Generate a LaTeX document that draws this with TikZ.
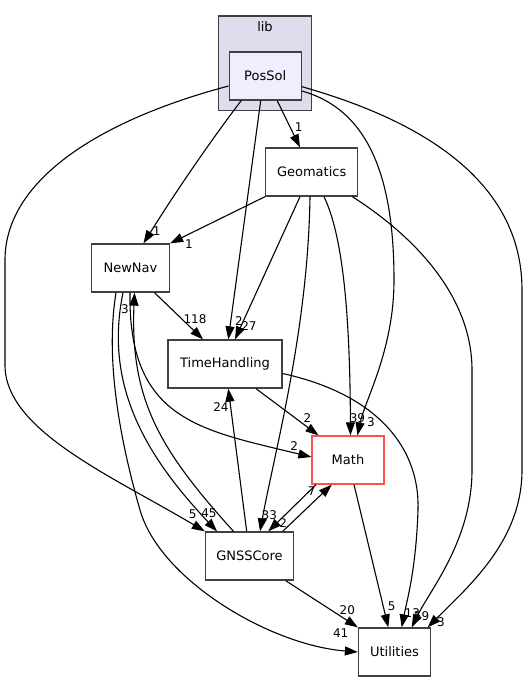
\documentclass[tikz,border=0pt]{standalone}
\usepackage{fontspec}
\setmainfont{DejaVu Sans}
\usetikzlibrary{arrows.meta}
\definecolor{dirborder}{HTML}{404040}
\definecolor{clusterfill}{HTML}{DDDDEE}
\definecolor{curfill}{HTML}{EEEEFF}
\definecolor{mathred}{HTML}{FF5050}

\begin{document}
\begin{tikzpicture}[x=1pt, y=-1pt,
  dir/.style={rectangle, draw=dirborder, line width=1.3pt, fill=white, minimum height=48pt, inner sep=0pt, font=\fontsize{13}{15}\selectfont},
  cluster/.style={rectangle, draw=dirborder, line width=1.3pt, fill=clusterfill, minimum width=93.4pt, minimum height=94.3pt, inner sep=0pt},
  lbl/.style={inner sep=0pt, font=\fontsize{12}{14}\selectfont},
  dep/.style={line width=1.1pt, -{Triangle[length=13pt,width=9pt]}}]
\useasboundingbox (0,0) rectangle (528,681);

% directories
\node[cluster] (lib) at (265,63) {};
\node[lbl, font=\fontsize{13}{15}\selectfont] (libtitle) at (265,27) {lib};
\node[dir, fill=curfill, minimum width=72pt] (PosSol) at (265.2,76) {PosSol};
\node[dir, minimum width=92pt] (Geomatics) at (311.7,172) {Geomatics};
\node[dir, minimum width=78pt] (NewNav) at (130.5,268) {NewNav};
\node[dir, minimum width=114pt] (TimeHandling) at (225,364) {TimeHandling};
\node[dir, draw=mathred, minimum width=72pt] (Math) at (348,460) {Math};
\node[dir, minimum width=88pt] (GNSSCore) at (249.5,556) {GNSSCore};
\node[dir, minimum width=72pt] (Utilities) at (394.5,652) {Utilities};

% PosSol
\draw[dep] ([xshift=12pt]PosSol.south) -- ([xshift=-11.7pt]Geomatics.north);
\draw[dep] ([xshift=-24pt]PosSol.south) .. controls (215,135) and (180,185) .. ([xshift=13pt]NewNav.north);
\draw[dep] ([xshift=-4.5pt]PosSol.south) -- ([xshift=3.3pt]TimeHandling.north);
\draw[dep] ([yshift=-15pt]PosSol.east) .. controls (370,110) and (394,180) .. (394,280) .. controls (394,350) and (365,400) .. ([xshift=9.4pt]Math.north);
\draw[dep] ([yshift=-10.7pt]PosSol.east) .. controls (420,120) and (522,180) .. (522,290) -- (522,470) .. controls (522,540) and (470,585) .. ([xshift=-3.5pt]Utilities.north east);
\draw[dep] ([yshift=-10pt]PosSol.west) .. controls (100,120) and (5,180) .. (5,260) -- (5,365) .. controls (5,430) and (110,475) .. (GNSSCore.north west);

% Geomatics
\draw[dep] (Geomatics.south west) -- (NewNav.north east);
\draw[dep] ([xshift=-11.7pt]Geomatics.south) -- ([xshift=10pt]TimeHandling.north);
\draw[dep] ([xshift=-1.7pt]Geomatics.south) .. controls (308,330) and (275,450) .. ([xshift=10.5pt]GNSSCore.north);
\draw[dep] ([xshift=12.3pt]Geomatics.south) .. controls (345,240) and (350,330) .. ([xshift=2.5pt]Math.north);
\draw[dep] ([xshift=-6pt]Geomatics.south east) .. controls (420,240) and (472,300) .. (472,370) -- (472,470) .. controls (472,540) and (430,590) .. ([xshift=17.2pt]Utilities.north);

% NewNav
\draw[dep] ([xshift=24pt]NewNav.south) -- ([xshift=-22pt]TimeHandling.north);
\draw[dep] ([xshift=-7.5pt]NewNav.south) .. controls (105,380) and (140,450) .. ([xshift=12.2pt]GNSSCore.north west);
\draw[dep] ([xshift=-14.5pt]NewNav.south) .. controls (105,360) and (120,440) .. (140,510) .. controls (160,580) and (270,645) .. (Utilities.west);
\draw[dep] ([xshift=-0.5pt]NewNav.south) .. controls (128,420) and (200,430) .. ([yshift=3pt]Math.west);

% TimeHandling
\draw[dep] ([xshift=31pt]TimeHandling.south) -- ([xshift=-29.5pt]Math.north);
\draw[dep] ([yshift=-9.5pt]TimeHandling.east) .. controls (380,395) and (420,450) .. (418,510) .. controls (416,570) and (407,600) .. ([xshift=7.2pt]Utilities.north);

% Math
\draw[dep] ([xshift=6pt]Math.south) -- ([xshift=-6.2pt]Utilities.north);
\draw[dep] ([xshift=-32pt]Math.south) -- ([xshift=18.8pt]GNSSCore.north);

% GNSSCore
\draw[dep] ([xshift=-16pt]GNSSCore.north) .. controls (160,450) and (130,400) .. ([xshift=4pt]NewNav.south);
\draw[dep] ([xshift=-2.8pt]GNSSCore.north) -- ([xshift=3.3pt]TimeHandling.south);
\draw[dep] ([xshift=-11.5pt]GNSSCore.north east) -- ([xshift=-16.3pt]Math.south);
\draw[dep] ([xshift=-8.5pt]GNSSCore.south east) -- (Utilities.north west);

% counts
\node[lbl] (cPosGeo) at (298.7,126.7) {1};
\node[lbl] (cPosNav) at (156.7,230.7) {1};
\node[lbl] (cPosTime) at (239,321) {2};
\node[lbl] (cPosMath) at (370.9,422.3) {3};
\node[lbl] (cPosUtil) at (441,621.7) {3};
\node[lbl] (cPosGnss) at (192.7,514.3) {5};
\node[lbl] (cGeoNav) at (189,244.3) {1};
\node[lbl] (cGeoTime) at (249,325.7) {27};
\node[lbl] (cGeoGnss) at (269.3,515) {33};
\node[lbl] (cGeoMath) at (357.4,418) {39};
\node[lbl] (cGeoUtil) at (421.7,616) {59};
\node[lbl] (cNavTime) at (195,319.3) {118};
\node[lbl] (cNavGnss) at (209,513.5) {45};
\node[lbl] (cNavUtil) at (340.7,633.3) {41};
\node[lbl] (cNavMath) at (294.3,445.9) {2};
\node[lbl] (cTimeMath) at (307.5,418.2) {2};
\node[lbl] (cTimeUtil) at (412.3,612.7) {13};
\node[lbl] (cMathUtil) at (391.7,606.7) {5};
\node[lbl] (cMathGnss) at (283.3,523.3) {2};
\node[lbl] (cGnssNav) at (125,309) {3};
\node[lbl] (cGnssTime) at (221,406.7) {24};
\node[lbl] (cGnssMath) at (311.7,490.7) {7};
\node[lbl] (cGnssUtil) at (347.3,610) {20};
\end{tikzpicture}
\end{document}
